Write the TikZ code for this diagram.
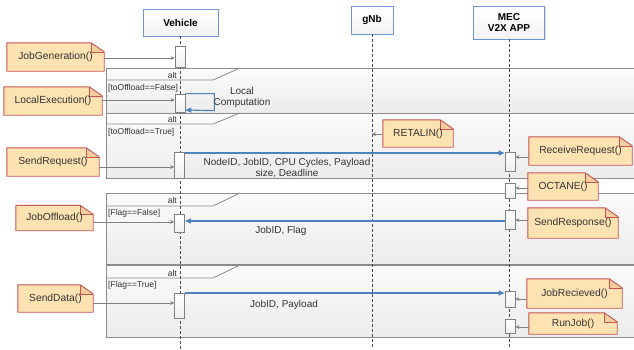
\documentclass[tikz,border=0pt]{standalone}
\usepackage{fontspec}
\setmainfont{Liberation Sans}
\usetikzlibrary{arrows.meta,shadows}

\definecolor{notefill}{HTML}{FDE3B2}
\definecolor{notefold}{HTML}{F3CFA0}
\definecolor{noteline}{HTML}{C65353}
\definecolor{headline}{HTML}{6A98D4}
\definecolor{msgblue}{HTML}{4F81BD}
\definecolor{framegray}{HTML}{8C8C8C}
\definecolor{txt}{HTML}{333333}

\pgfdeclarelayer{back}
\pgfdeclarelayer{mid}
\pgfsetlayers{back,mid,main}

\tikzset{
  head/.style={draw=headline, line width=0.8pt, top color=white, bottom color=gray!9,
    font=\fontsize{10}{11}\selectfont\bfseries, align=center, inner sep=0pt,
    drop shadow={shadow xshift=1pt, shadow yshift=-1pt, opacity=0.25}},
  lifeline/.style={draw=gray!60!black, dash pattern=on 3pt off 2pt, line width=0.7pt},
  actbar/.style={draw=gray, line width=0.7pt, top color=white, bottom color=gray!12,
    minimum width=10pt, inner sep=0pt},
  frag/.style={draw=framegray, line width=0.8pt, top color=gray!3, bottom color=gray!15},
  fraghead/.style={draw=framegray, line width=0.8pt},
  notebox/.style={inner sep=0pt, font=\fontsize{10.3}{11}\selectfont, text=txt},
  notearrow/.style={draw=gray, line width=0.7pt, -{Stealth[length=4pt,width=4pt]}},
  msg/.style={draw=msgblue, line width=1.1pt, -{Triangle[length=6pt,width=5pt]}},
  msglabel/.style={font=\fontsize{10}{11}\selectfont, text=txt, align=center, inner sep=0pt},
  guard/.style={font=\fontsize{8.5}{9}\selectfont, text=txt, anchor=west, inner sep=0pt},
  altlabel/.style={font=\fontsize{8.5}{9}\selectfont, text=txt, anchor=east, inner sep=0pt},
}

% folded-corner note outline drawn behind the note's text
\newcommand\foldednote[1]{%
  \begin{pgfonlayer}{mid}
    \fill[notefill] (#1.north west) -- ([xshift=-13pt]#1.north east)
      -- ([yshift=-9pt]#1.north east) -- (#1.south east) -- (#1.south west) -- cycle;
    \fill[notefold] ([xshift=-13pt]#1.north east) -- ([xshift=-13pt,yshift=-9pt]#1.north east)
      -- ([yshift=-9pt]#1.north east) -- cycle;
    \draw[noteline, line width=0.5pt] ([xshift=-13pt]#1.north east)
      -- ([xshift=-13pt,yshift=-9pt]#1.north east) -- ([yshift=-9pt]#1.north east);
    \draw[noteline, line width=0.9pt] (#1.north west) -- ([xshift=-13pt]#1.north east)
      -- ([yshift=-9pt]#1.north east) -- (#1.south east) -- (#1.south west) -- cycle;
  \end{pgfonlayer}}

\begin{document}
\begin{tikzpicture}[x=1pt, y=-1pt]
\useasboundingbox (0,0) rectangle (634,349);
\clip (0,0) rectangle (634,349);

% combined fragments
\begin{pgfonlayer}{back}
  \draw[frag] (106,68) rectangle (640,113);
  \draw[fraghead] (106,80) -- (213,80) -- (240,68);
  \draw[frag] (106,113) rectangle (640,178);
  \draw[fraghead] (106,124) -- (213,124) -- (240,113);
  \draw[frag] (106,193) rectangle (640,264);
  \draw[fraghead] (106,206) -- (213,206) -- (240,193);
  \draw[frag] (106,265) rectangle (640,337);
  \draw[fraghead] (106,278) -- (213,278) -- (240,265);
  \draw[framegray, line width=1.2pt] (106,264.5) -- (640,264.5);
\end{pgfonlayer}

\node[altlabel] (alt1) at (177,75) {alt};
\node[altlabel] (alt2) at (177,119) {alt};
\node[altlabel] (alt3) at (177,200.5) {alt};
\node[altlabel] (alt4) at (177,273) {alt};
\node[guard] (g1) at (108,88) {[toOffload==False]};
\node[guard] (g2) at (108,132) {[toOffload==True]};
\node[guard] (g3) at (108,213) {[Flag==False]};
\node[guard] (g4) at (108,285) {[Flag==True]};

% lifeline heads
\node[head, minimum width=75pt, minimum height=27pt] (veh) at (180.5,22.5) {Vehicle};
\node[head, minimum width=42pt, minimum height=28pt] (gnb) at (372,20) {gNb};
\node[head, minimum width=71pt, minimum height=33pt] (mec) at (509,22.5) {MEC\\V2X APP};

% lifelines
\draw[lifeline] (veh.south) -- (veh.south |- 0,349);
\draw[lifeline] (gnb.south) -- (gnb.south |- 0,349);
\draw[lifeline] (mec.south) -- (mec.south |- 0,349);

% activation bars
\node[actbar, minimum height=21pt] (vb1) at (180,56.5) {};
\node[actbar, minimum height=18pt] (vb2) at (180,103) {};
\node[actbar, minimum height=26pt] (vb3) at (179.5,165) {};
\node[actbar, minimum height=18pt] (vb4) at (179.5,223) {};
\node[actbar, minimum height=25pt] (vb5) at (179.5,305.5) {};
\node[actbar, minimum height=19pt] (mb1) at (510,161.5) {};
\node[actbar, minimum height=15pt] (mb2) at (510,190.5) {};
\node[actbar, minimum height=19pt] (mb3) at (510,219.5) {};
\node[actbar, minimum height=16pt] (mb4) at (510,299) {};
\node[actbar, minimum height=14pt] (mb5) at (510,326) {};

% notes
\node[notebox, minimum width=97pt, minimum height=28pt] (jg) at (55.5,57) {JobGeneration()};
\node[notebox, minimum width=98pt, minimum height=28pt] (le) at (53,101) {LocalExecution()};
\node[notebox, minimum width=92pt, minimum height=28pt] (sr) at (53,162) {SendRequest()};
\node[notebox, minimum width=77pt, minimum height=25pt] (jo) at (54.5,218) {JobOffload()};
\node[notebox, minimum width=75pt, minimum height=27pt] (sd) at (55.5,298.5) {SendData()};
\node[notebox, minimum width=70pt, minimum height=27pt] (rt) at (418,133.5) {RETALIN()};
\node[notebox, minimum width=103pt, minimum height=28pt] (rr) at (580.5,151) {ReceiveRequest()};
\node[notebox, minimum width=70pt, minimum height=27pt] (oc) at (563,186.5) {OCTANE()};
\node[notebox, minimum width=90pt, minimum height=30pt] (sp) at (573,223) {SendResponse()};
\node[notebox, minimum width=95pt, minimum height=29pt] (jr) at (574.5,293.5) {JobRecieved()};
\node[notebox, minimum width=88pt, minimum height=21pt] (rj) at (573,323.5) {RunJob()};
\foreach \n in {jg,le,sr,jo,sd,rt,rr,oc,sp,jr,rj} {\foldednote{\n}}

% note connectors
\draw[notearrow] (jg.east |- 0,58) -- (vb1.west |- 0,58);
\draw[notearrow] (le.east |- 0,100) -- (vb2.west |- 0,100);
\draw[notearrow] (sr.east |- 0,167) -- (vb3.west |- 0,167);
\draw[notearrow] (jo.east |- 0,222) -- (vb4.west |- 0,222);
\draw[notearrow] (sd.east |- 0,303) -- (vb5.west |- 0,303);
\draw[notearrow] (rt.west |- 0,134) -- (gnb.south |- 0,134);
\draw[notearrow] (rr.west |- 0,157) -- (mb1.east |- 0,157);
\draw[notearrow] (oc.west |- 0,188) -- (mb2.east |- 0,188);
\draw[notearrow] (sp.west |- 0,220) -- (mb3.east |- 0,220);
\draw[notearrow] (jr.west |- 0,299) -- (mb4.east |- 0,299);
\draw[notearrow] (rj.west |- 0,327) -- (mb5.east |- 0,327);

% messages
\draw[msg] (vb2.north east) -- ++(29,0) -- ++(0,17) -- (vb2.east |- 0,110);
\node[msglabel] (lc) at (242,97.5) {Local\\Computation};
\draw[msg] (vb3.east |- 0,153) -- (mb1.west |- 0,153);
\node[msglabel] (m1) at (287,168) {NodeID, JobID, CPU Cycles, Payload\\size, Deadline};
\draw[msg] (mb3.west |- 0,221) -- (vb4.east |- 0,221);
\node[msglabel] (m2) at (281,231) {JobID, Flag};
\draw[msg] (vb5.east |- 0,293) -- (mb4.west |- 0,293);
\node[msglabel] (m3) at (284,305) {JobID, Payload};
\end{tikzpicture}
\end{document}
